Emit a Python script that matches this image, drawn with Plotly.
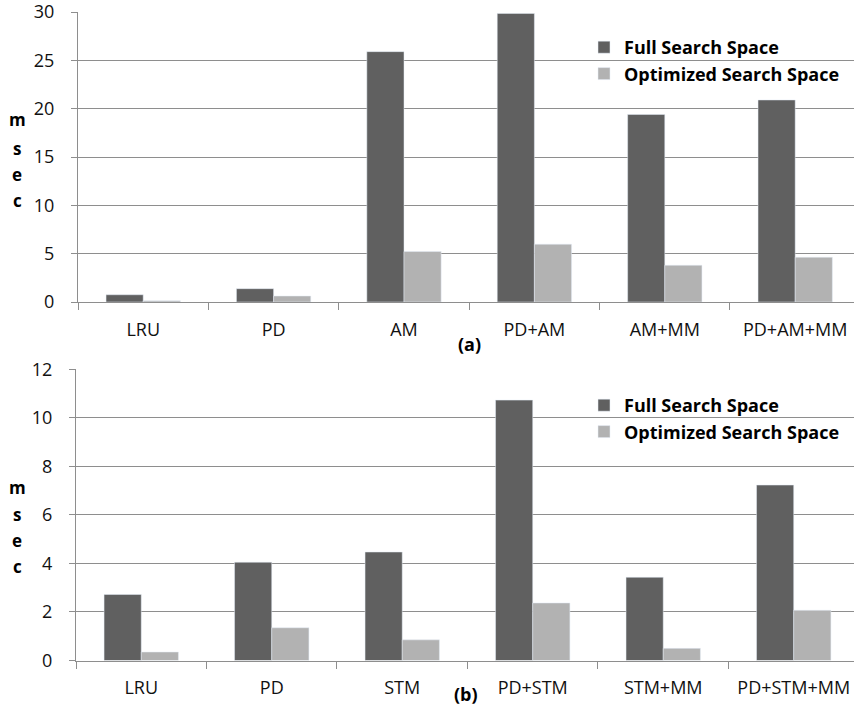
import plotly.graph_objects as go

# ---- data ----
cats_a = ["LRU", "PD", "AM", "PD+AM", "AM+MM", "PD+AM+MM"]
full_a = [0.75, 1.38, 25.9, 29.85, 19.4, 20.9]
opt_a = [0.13, 0.62, 5.22, 5.98, 3.8, 4.63]

cats_b = ["LRU", "PD", "STM", "PD+STM", "STM+MM", "PD+STM+MM"]
full_b = [2.72, 4.05, 4.47, 10.73, 3.43, 7.23]
opt_b = [0.35, 1.35, 0.85, 2.37, 0.5, 2.07]

series_names = ["Full Search Space", "Optimized Search Space"]
yticks_a = [0, 5, 10, 15, 20, 25, 30]
yticks_b = [0, 2, 4, 6, 8, 10, 12]

DARK = "#606060"
LIGHT = "#b2b2b2"
GRID = "#8e8e8e"
FONT = "Open Sans"
W, H = 854, 716

fig = go.Figure()
fig.add_trace(go.Bar(x=cats_a, y=full_a, name=series_names[0], marker_color=DARK,
                     xaxis="x", yaxis="y", legend="legend"))
fig.add_trace(go.Bar(x=cats_a, y=opt_a, name=series_names[1], marker_color=LIGHT,
                     xaxis="x", yaxis="y", legend="legend"))
fig.add_trace(go.Bar(x=cats_b, y=full_b, name=series_names[0], marker_color=DARK,
                     xaxis="x2", yaxis="y2", legend="legend2"))
fig.add_trace(go.Bar(x=cats_b, y=opt_b, name=series_names[1], marker_color=LIGHT,
                     xaxis="x2", yaxis="y2", legend="legend2"))

tickfont = dict(family=FONT, size=18, color="#111111")

def xax(domain, anchor, rng):
    return dict(domain=domain, anchor=anchor, range=rng, type="category",
                showline=True, linecolor=GRID, linewidth=1,
                ticks="outside", tickson="boundaries", ticklen=7, tickcolor=GRID,
                showgrid=False, tickfont=tickfont, ticklabelstandoff=11,
                automargin=False, ticklabeloverflow="allow")

def yax(domain, anchor, rng, vals):
    return dict(domain=domain, anchor=anchor, range=rng, tickvals=vals,
                showline=True, linecolor=GRID, linewidth=1,
                ticks="outside", ticklen=6, tickcolor=GRID,
                showgrid=True, gridcolor=GRID, gridwidth=1, zeroline=False,
                tickfont=tickfont, ticklabelstandoff=13, automargin=False,
                ticklabeloverflow="allow")

legfont = dict(family=FONT, size=18, color="#000", weight="bold")

fig.update_layout(
    width=W, height=H,
    margin=dict(l=0, r=0, t=0, b=0, autoexpand=False),
    paper_bgcolor="white", plot_bgcolor="white",
    barmode="group", bargap=0.43, bargroupgap=0,
    xaxis=xax([78 / W, 1], "y", [-0.5, 5.451]),
    yaxis=yax([1 - 302 / H, 1 - 12 / H], "x", [0, 30], yticks_a),
    xaxis2=xax([76 / W, 1], "y2", [-0.5, 5.462]),
    yaxis2=yax([1 - 660.5 / H, 1 - 369.3 / H], "x2", [0, 12], yticks_b),
    legend=dict(x=584 / W, y=1 - 29 / H, xanchor="left", yanchor="top",
                font=legfont, bgcolor="rgba(0,0,0,0)",
                itemwidth=30, tracegroupgap=0),
    legend2=dict(x=584 / W, y=1 - 387 / H, xanchor="left", yanchor="top",
                 font=legfont, bgcolor="rgba(0,0,0,0)",
                 itemwidth=30, tracegroupgap=0),
    showlegend=True,
)

# bold labels
anns = []
for letters, ys in (("msec", [120, 148, 175, 200]), ("msec", [487, 514, 540, 566])):
    for ch, yy in zip(letters, ys):
        anns.append(dict(text="<b>%s</b>" % ch, x=17 / W, y=1 - yy / H, xref="paper", yref="paper",
                         showarrow=False, xanchor="center", yanchor="middle",
                         font=dict(family=FONT, size=17, color="#000")))
anns.append(dict(text="<b>(a)</b>", x=470 / W, y=1 - 344 / H, xref="paper", yref="paper",
                 showarrow=False, xanchor="center", yanchor="middle",
                 font=dict(family=FONT, size=18, color="#000")))
anns.append(dict(text="<b>(b)</b>", x=466 / W, y=1 - 694 / H, xref="paper", yref="paper",
                 showarrow=False, xanchor="center", yanchor="middle",
                 font=dict(family=FONT, size=18, color="#000")))
fig.update_layout(annotations=anns)

fig.write_html("out.html", config={"displayModeBar": False},
               post_script="document.body.style.margin='0';document.body.style.overflow='hidden';")
